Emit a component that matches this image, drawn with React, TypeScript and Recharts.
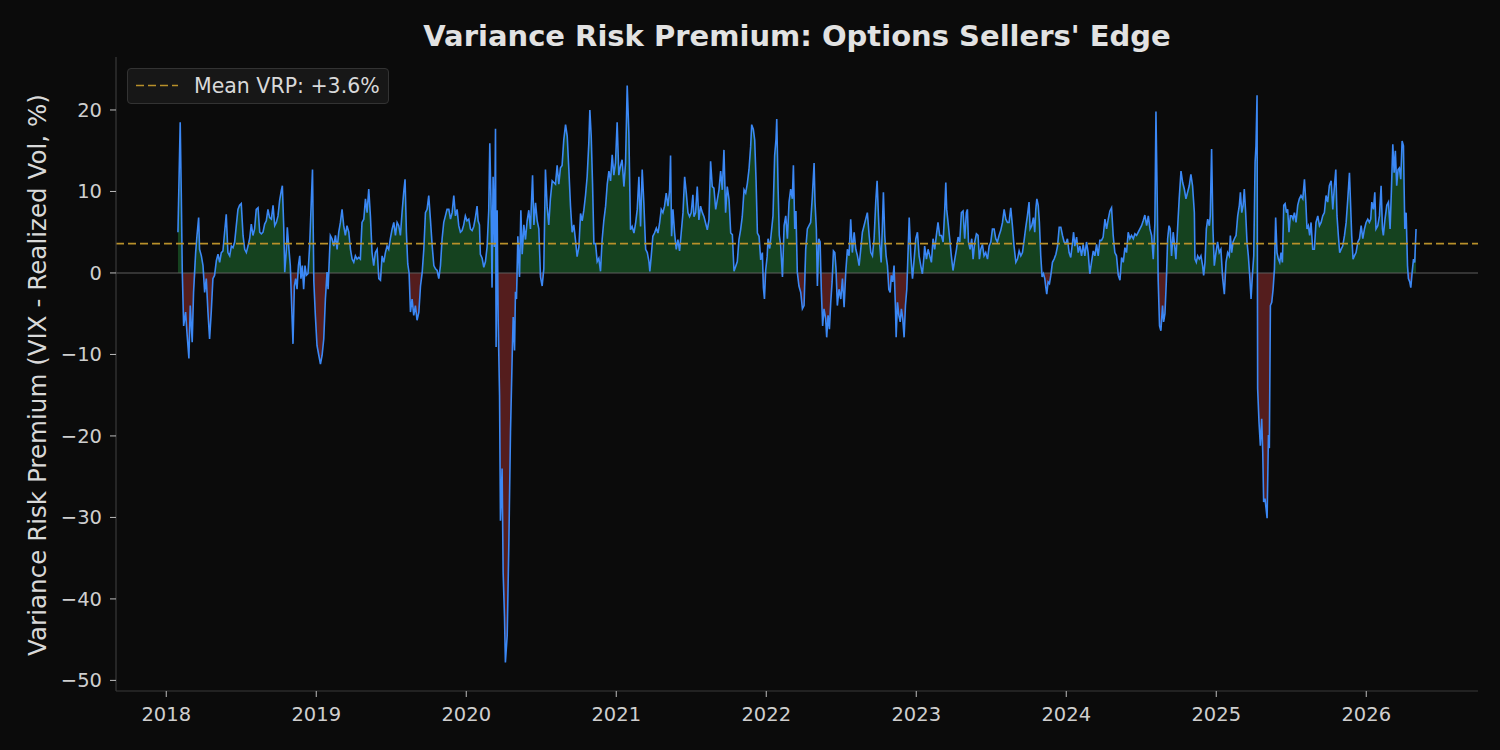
import React from 'react';
import { ComposedChart, Area, Line, XAxis, YAxis, ReferenceLine } from 'recharts';

// VIX minus realized vol: [decimal year, VRP %]
const vrp2018: [number, number][] = [
  [2018.078, 5.0], [2018.093, 18.5], [2018.100, 9.9], [2018.107, 0.0], [2018.116, -6.5], [2018.129, -4.8],
  [2018.138, -7.3], [2018.151, -10.5], [2018.160, -4.0], [2018.173, -8.5], [2018.182, -2.4], [2018.196, 2.5],
  [2018.205, 4.6], [2018.216, 6.8], [2018.222, 2.9], [2018.234, 2.1], [2018.245, 0.9], [2018.256, -2.4],
  [2018.267, -0.7], [2018.278, -4.8], [2018.289, -8.1], [2018.300, -4.8], [2018.311, -0.7], [2018.322, -0.3],
  [2018.334, 1.5], [2018.345, 2.3], [2018.356, 1.3], [2018.367, 2.5], [2018.378, 2.7], [2018.389, 5.0],
  [2018.400, 7.2], [2018.411, 2.5], [2018.423, 2.1], [2018.434, 3.3], [2018.445, 3.1], [2018.456, 3.8],
  [2018.467, 5.8], [2018.478, 7.8], [2018.489, 8.3], [2018.500, 8.5], [2018.512, 4.6], [2018.523, 2.9],
  [2018.534, 2.5], [2018.545, 3.3], [2018.556, 4.2], [2018.567, 6.0], [2018.578, 4.6], [2018.589, 5.4],
  [2018.600, 7.8], [2018.612, 8.0], [2018.623, 5.0], [2018.634, 4.8], [2018.645, 5.0], [2018.656, 6.0],
  [2018.667, 6.4], [2018.678, 7.8], [2018.689, 6.8], [2018.701, 6.6], [2018.712, 8.3], [2018.723, 5.8],
  [2018.734, 6.2], [2018.745, 7.0], [2018.756, 8.9], [2018.767, 10.1], [2018.774, 10.7], [2018.783, 5.8],
  [2018.790, 0.1], [2018.801, 2.9], [2018.807, 5.6], [2018.818, 2.9], [2018.827, 0.9], [2018.836, -4.0],
  [2018.845, -8.7], [2018.854, -1.6], [2018.863, -0.7], [2018.872, -2.0], [2018.881, 0.9], [2018.890, 2.1],
  [2018.898, -0.7], [2018.907, 0.9], [2018.916, -2.0], [2018.925, 0.9], [2018.934, -0.3], [2018.945, -0.1],
  [2018.956, 3.3], [2018.965, 7.8], [2018.975, 12.7], [2018.984, -1.1], [2018.994, -5.2],
];

const vrp2019: [number, number][] = [
  [2019.005, -8.9], [2019.017, -10.1], [2019.028, -11.2], [2019.039, -10.1], [2019.050, -8.1], [2019.061, -3.2],
  [2019.072, 0.1], [2019.079, -2.0], [2019.088, 2.1], [2019.094, 4.6], [2019.105, 4.2], [2019.117, 3.3],
  [2019.128, 4.6], [2019.139, 2.9], [2019.150, 5.0], [2019.161, 6.2], [2019.172, 7.8], [2019.183, 5.8],
  [2019.194, 4.6], [2019.205, 5.8], [2019.217, 5.0], [2019.228, 2.9], [2019.239, 1.7], [2019.250, 1.3],
  [2019.261, 2.1], [2019.272, 1.7], [2019.283, 1.9], [2019.294, 1.7], [2019.305, 6.2], [2019.317, 6.6],
  [2019.328, 9.1], [2019.339, 7.4], [2019.350, 10.3], [2019.361, 7.0], [2019.372, 2.5], [2019.383, 0.9],
  [2019.394, 2.5], [2019.406, 2.9], [2019.417, -0.7], [2019.428, -0.9], [2019.439, 2.1], [2019.450, 1.3],
  [2019.461, 2.5], [2019.472, 3.3], [2019.483, 2.9], [2019.494, 4.2], [2019.506, 5.4], [2019.517, 6.2],
  [2019.528, 4.6], [2019.539, 6.2], [2019.550, 5.8], [2019.561, 4.6], [2019.572, 7.4], [2019.583, 9.9],
  [2019.592, 11.5], [2019.601, 5.0], [2019.610, 1.1], [2019.619, 0.0], [2019.628, -4.8], [2019.639, -3.2],
  [2019.650, -5.2], [2019.661, -4.0], [2019.672, -5.8], [2019.684, -4.8], [2019.695, -1.6], [2019.706, 0.0],
  [2019.717, 2.9], [2019.728, 7.4], [2019.739, 7.8], [2019.750, 9.5], [2019.761, 6.6], [2019.773, 3.3],
  [2019.784, 0.9], [2019.795, 0.5], [2019.806, 0.3], [2019.817, -0.7], [2019.828, 0.9], [2019.839, 4.2],
  [2019.850, 6.2], [2019.861, 7.0], [2019.872, 7.8], [2019.884, 7.8], [2019.895, 6.6], [2019.906, 7.4],
  [2019.917, 9.5], [2019.928, 7.0], [2019.939, 7.8], [2019.950, 5.8], [2019.961, 5.0], [2019.972, 5.2],
  [2019.983, 5.9], [2019.994, 7.0],
];

const vrp2020: [number, number][] = [
  [2020.005, 6.4], [2020.017, 6.6], [2020.028, 5.4], [2020.039, 5.2], [2020.050, 5.7], [2020.061, 6.8],
  [2020.072, 8.2], [2020.079, 6.4], [2020.088, 5.9], [2020.094, 2.3], [2020.106, 1.8], [2020.117, 0.7],
  [2020.128, 1.4], [2020.139, 3.2], [2020.150, 7.7], [2020.157, 15.9], [2020.166, 7.7], [2020.172, -1.8],
  [2020.179, 11.8], [2020.188, 3.2], [2020.195, 17.7], [2020.199, -9.1], [2020.206, 7.7], [2020.213, -5.9],
  [2020.222, -15.0], [2020.228, -30.4], [2020.239, -24.0], [2020.246, -36.8], [2020.255, -42.2], [2020.261, -47.8],
  [2020.273, -44.5], [2020.284, -33.1], [2020.295, -19.5], [2020.306, -10.4], [2020.313, -5.4], [2020.322, -9.5],
  [2020.328, -2.3], [2020.335, -3.2], [2020.344, 4.5], [2020.355, -0.5], [2020.364, 7.7], [2020.373, 2.3],
  [2020.384, 5.9], [2020.395, 4.1], [2020.406, 6.4], [2020.417, 7.7], [2020.428, 5.4], [2020.442, 12.0],
  [2020.451, 5.9], [2020.462, 8.6], [2020.473, 6.4], [2020.484, 5.4], [2020.495, -0.5], [2020.506, -1.6],
  [2020.517, 0.5], [2020.528, 12.7], [2020.539, 8.2], [2020.550, 5.9], [2020.561, 9.1], [2020.573, 11.3],
  [2020.584, 11.1], [2020.595, 10.9], [2020.606, 13.2], [2020.617, 10.9], [2020.628, 12.9], [2020.639, 13.2],
  [2020.650, 16.3], [2020.662, 18.2], [2020.673, 16.8], [2020.684, 12.7], [2020.695, 8.2], [2020.706, 5.0],
  [2020.717, 5.9], [2020.728, 4.1], [2020.739, 2.0], [2020.751, 3.2], [2020.762, 7.3], [2020.773, 6.4],
  [2020.784, 7.7], [2020.795, 9.5], [2020.806, 11.8], [2020.817, 15.9], [2020.824, 20.0], [2020.833, 16.8],
  [2020.842, 10.9], [2020.851, 3.6], [2020.862, 3.6], [2020.873, 1.4], [2020.884, 1.8], [2020.895, 0.2],
  [2020.906, 4.1], [2020.917, 6.4], [2020.929, 8.2], [2020.940, 10.9], [2020.951, 12.5], [2020.962, 11.3],
  [2020.973, 14.5], [2020.984, 12.0], [2020.995, 13.5],
];

const vrp2021: [number, number][] = [
  [2021.006, 18.5], [2021.017, 12.0], [2021.028, 13.1], [2021.039, 13.9], [2021.051, 10.6], [2021.062, 13.5],
  [2021.073, 23.0], [2021.084, 17.2], [2021.095, 5.3], [2021.106, 5.7], [2021.118, 4.9], [2021.129, 6.1],
  [2021.140, 7.8], [2021.151, 11.8], [2021.162, 5.7], [2021.173, 12.7], [2021.184, 8.6], [2021.196, 2.9],
  [2021.207, 2.5], [2021.218, 1.4], [2021.224, 0.2], [2021.233, 2.0], [2021.244, 4.5], [2021.255, 4.9],
  [2021.267, 5.5], [2021.278, 4.9], [2021.289, 6.1], [2021.300, 7.8], [2021.311, 7.4], [2021.322, 8.2],
  [2021.333, 9.8], [2021.345, 8.2], [2021.356, 10.2], [2021.362, 14.4], [2021.369, 4.5], [2021.378, 7.8],
  [2021.389, 4.9], [2021.400, 2.9], [2021.411, 4.1], [2021.422, 2.7], [2021.433, 4.9], [2021.445, 7.4],
  [2021.456, 11.8], [2021.467, 9.8], [2021.478, 7.4], [2021.489, 6.9], [2021.500, 7.4], [2021.511, 9.6],
  [2021.518, 6.9], [2021.529, 7.4], [2021.540, 10.6], [2021.551, 6.5], [2021.562, 8.2], [2021.574, 7.4],
  [2021.585, 6.9], [2021.596, 6.1], [2021.607, 5.3], [2021.618, 6.5], [2021.629, 13.7], [2021.640, 10.6],
  [2021.651, 10.4], [2021.663, 7.8], [2021.674, 9.0], [2021.685, 10.2], [2021.696, 12.5], [2021.707, 10.2],
  [2021.718, 15.1], [2021.729, 7.4], [2021.740, 10.6], [2021.752, 9.0], [2021.763, 4.9], [2021.774, 4.7],
  [2021.785, 0.2], [2021.796, 0.8], [2021.807, 1.4], [2021.818, 4.1], [2021.829, 5.3], [2021.840, 6.9],
  [2021.852, 10.2], [2021.863, 9.8], [2021.874, 11.0], [2021.885, 12.7], [2021.896, 15.5], [2021.903, 18.2],
  [2021.914, 17.6], [2021.923, 16.3], [2021.932, 11.4], [2021.941, 4.9], [2021.952, 4.5], [2021.963, 1.6],
  [2021.974, 2.5], [2021.981, -1.8], [2021.988, -3.2], [2021.996, 0.3],
];

const vrp2022: [number, number][] = [
  [2022.006, 2.0], [2022.012, 4.2], [2022.023, 3.0], [2022.034, 5.0], [2022.045, 7.0], [2022.056, 14.4],
  [2022.065, 16.4], [2022.070, 18.9], [2022.079, 10.3], [2022.087, 4.6], [2022.096, 3.4], [2022.108, -0.5],
  [2022.119, 5.8], [2022.130, 7.0], [2022.141, 4.2], [2022.152, 8.7], [2022.163, 10.3], [2022.174, 9.1],
  [2022.181, 13.2], [2022.190, 5.4], [2022.198, 7.6], [2022.207, 0.1], [2022.218, -1.6], [2022.230, -2.4],
  [2022.241, -4.4], [2022.252, -4.0], [2022.263, 2.9], [2022.274, 5.4], [2022.285, 5.8], [2022.296, 6.2],
  [2022.307, 9.3], [2022.319, 13.5], [2022.325, 8.7], [2022.334, 5.4], [2022.341, -1.6], [2022.350, 4.2],
  [2022.359, 3.8], [2022.367, -2.0], [2022.376, -6.5], [2022.385, -4.4], [2022.396, -5.6], [2022.403, -7.9],
  [2022.412, -5.2], [2022.421, -6.9], [2022.430, -3.6], [2022.439, -1.1], [2022.448, 2.7], [2022.457, 2.5],
  [2022.465, 0.5], [2022.474, -4.0], [2022.485, -2.0], [2022.497, -3.2], [2022.508, -0.7], [2022.519, -4.2],
  [2022.530, 0.1], [2022.541, 2.9], [2022.552, 2.1], [2022.563, 6.6], [2022.574, 2.5], [2022.586, 5.0],
  [2022.597, 2.9], [2022.608, 2.1], [2022.619, 0.9], [2022.630, 2.9], [2022.641, 5.0], [2022.652, 5.8],
  [2022.663, 6.6], [2022.674, 7.4], [2022.686, 4.6], [2022.697, 2.5], [2022.708, 2.1], [2022.719, 4.2],
  [2022.730, 8.7], [2022.739, 11.3], [2022.748, 7.0], [2022.757, 3.4], [2022.766, 1.3], [2022.775, 6.2],
  [2022.781, 9.9], [2022.790, 4.6], [2022.799, 2.1], [2022.808, 0.9], [2022.817, -2.0], [2022.826, -2.4],
  [2022.834, -0.3], [2022.843, -1.1], [2022.852, 0.9], [2022.861, -4.0], [2022.866, -7.9], [2022.875, -3.6],
  [2022.884, -5.2], [2022.893, -6.0], [2022.901, -4.4], [2022.910, -5.6], [2022.919, -7.9], [2022.928, -4.0],
  [2022.937, -2.0], [2022.946, 2.9], [2022.953, 6.8], [2022.964, 2.1], [2022.975, -0.7], [2022.986, 1.7],
  [2022.997, 4.2],
];

const vrp2023: [number, number][] = [
  [2023.008, 5.0], [2023.019, 2.1], [2023.030, 0.9], [2023.041, -0.1], [2023.052, 2.1], [2023.056, 3.3],
  [2023.068, 1.7], [2023.079, 2.9], [2023.090, 2.1], [2023.101, 1.3], [2023.112, 4.2], [2023.123, 2.9],
  [2023.134, 4.6], [2023.145, 6.2], [2023.156, 4.6], [2023.168, 4.6], [2023.179, 3.8], [2023.190, 7.8],
  [2023.197, 11.1], [2023.203, 7.8], [2023.212, 6.2], [2023.223, 4.2], [2023.234, 2.1], [2023.245, 0.3],
  [2023.257, 1.7], [2023.268, 2.9], [2023.279, 4.4], [2023.290, 3.8], [2023.301, 7.4], [2023.312, 7.6],
  [2023.323, 4.2], [2023.334, 7.4], [2023.341, 7.8], [2023.348, 3.8], [2023.359, 2.9], [2023.370, 4.2],
  [2023.379, 1.7], [2023.390, 3.8], [2023.401, 4.8], [2023.412, 4.6], [2023.421, 1.7], [2023.430, 2.9],
  [2023.441, 3.5], [2023.452, 2.1], [2023.463, 2.5], [2023.475, 1.7], [2023.486, 3.3], [2023.497, 3.8],
  [2023.508, 5.4], [2023.519, 5.4], [2023.530, 4.2], [2023.541, 3.8], [2023.552, 4.6], [2023.563, 5.2],
  [2023.575, 6.2], [2023.586, 7.8], [2023.597, 6.6], [2023.608, 6.2], [2023.619, 6.2], [2023.630, 8.0],
  [2023.641, 5.8], [2023.652, 3.3], [2023.664, 1.3], [2023.675, 1.7], [2023.686, 2.7], [2023.697, 2.1],
  [2023.708, 2.5], [2023.719, 4.0], [2023.730, 5.6], [2023.741, 7.0], [2023.752, 8.7], [2023.759, 5.4],
  [2023.770, 5.8], [2023.781, 6.8], [2023.790, 5.0], [2023.797, 7.8], [2023.804, 9.1], [2023.813, 8.3],
  [2023.821, 6.2], [2023.830, 2.1], [2023.839, -0.5], [2023.848, -0.1], [2023.857, -0.7], [2023.864, -1.8],
  [2023.870, -2.6], [2023.879, -1.1], [2023.888, -1.3], [2023.897, -0.3], [2023.908, 1.3], [2023.919, 1.7],
  [2023.931, 2.3], [2023.942, 3.3], [2023.953, 5.6], [2023.964, 5.6], [2023.975, 4.6], [2023.986, 3.8],
  [2023.997, 3.6],
];

const vrp2024: [number, number][] = [
  [2024.008, 4.2], [2024.019, 2.5], [2024.030, 1.9], [2024.042, 3.8], [2024.049, 5.0], [2024.057, 3.3],
  [2024.069, 4.4], [2024.080, 2.5], [2024.091, 3.3], [2024.102, 2.1], [2024.113, 3.5], [2024.124, 2.1],
  [2024.135, 3.8], [2024.146, 2.5], [2024.157, -0.1], [2024.169, 1.4], [2024.180, 2.7], [2024.191, 2.1],
  [2024.202, 3.5], [2024.213, 2.1], [2024.224, 4.0], [2024.235, 4.0], [2024.246, 4.4], [2024.258, 6.6],
  [2024.269, 5.4], [2024.280, 6.6], [2024.291, 7.6], [2024.302, 8.0], [2024.313, 4.6], [2024.324, 2.5],
  [2024.335, 2.1], [2024.347, -0.3], [2024.358, -0.9], [2024.369, 1.9], [2024.380, 1.3], [2024.391, 3.1],
  [2024.402, 2.5], [2024.413, 5.0], [2024.424, 4.2], [2024.435, 4.6], [2024.447, 4.2], [2024.458, 4.8],
  [2024.469, 4.6], [2024.480, 5.0], [2024.491, 5.4], [2024.502, 5.8], [2024.513, 6.4], [2024.524, 7.1],
  [2024.536, 5.8], [2024.547, 7.0], [2024.558, 5.4], [2024.569, 4.6], [2024.580, 1.7], [2024.591, 6.1],
  [2024.598, 19.8], [2024.607, 8.3], [2024.613, -1.0], [2024.622, -6.5], [2024.631, -7.1], [2024.642, -4.0],
  [2024.649, -6.0], [2024.658, -5.0], [2024.667, -1.1], [2024.676, 4.2], [2024.685, 5.8], [2024.693, 5.4],
  [2024.702, 2.1], [2024.713, 5.0], [2024.720, 3.8], [2024.731, 1.7], [2024.742, 5.4], [2024.753, 9.1],
  [2024.765, 12.5], [2024.776, 11.1], [2024.787, 10.3], [2024.798, 9.1], [2024.809, 9.9], [2024.820, 10.7],
  [2024.831, 12.1], [2024.842, 10.7], [2024.854, 7.4], [2024.858, 1.7], [2024.867, 1.3], [2024.876, 2.1],
  [2024.887, 1.7], [2024.898, 2.1], [2024.909, 0.9], [2024.916, -0.3], [2024.925, 1.3], [2024.934, 5.4],
  [2024.943, 6.6], [2024.954, 5.8], [2024.960, 7.0], [2024.969, 15.2], [2024.978, 5.4], [2024.987, 0.9],
  [2024.998, 2.5],
];

const vrp2025: [number, number][] = [
  [2025.009, 3.8], [2025.020, 2.5], [2025.031, 2.9], [2025.043, -0.7], [2025.054, -2.6], [2025.065, 1.3],
  [2025.076, 2.5], [2025.087, 2.1], [2025.094, 4.6], [2025.103, 2.5], [2025.112, 3.8], [2025.121, 4.2],
  [2025.132, 4.6], [2025.143, 7.0], [2025.154, 8.3], [2025.161, 9.9], [2025.170, 7.4], [2025.179, 8.3],
  [2025.187, 10.3], [2025.196, 7.4], [2025.205, 3.8], [2025.214, 2.1], [2025.223, -0.3], [2025.232, -3.2],
  [2025.241, -0.3], [2025.250, 2.1], [2025.259, 13.6], [2025.265, 15.6], [2025.272, 21.8], [2025.276, -14.2],
  [2025.285, -18.3], [2025.294, -21.2], [2025.303, -17.9], [2025.310, -22.0], [2025.316, -28.1], [2025.325, -27.7],
  [2025.332, -28.9], [2025.339, -30.1], [2025.348, -19.9], [2025.354, -21.5], [2025.361, -4.0], [2025.370, -3.6],
  [2025.379, -2.0], [2025.388, 0.5], [2025.396, 6.8], [2025.405, 2.5], [2025.414, 1.7], [2025.423, 1.3],
  [2025.432, 2.5], [2025.441, 1.3], [2025.450, 8.3], [2025.459, 8.5], [2025.468, 7.4], [2025.476, 7.8],
  [2025.485, 5.0], [2025.494, 7.0], [2025.503, 7.0], [2025.512, 6.6], [2025.521, 7.4], [2025.532, 6.2],
  [2025.543, 8.3], [2025.554, 9.1], [2025.565, 9.5], [2025.577, 9.1], [2025.588, 11.5], [2025.597, 8.7],
  [2025.605, 5.4], [2025.614, 5.8], [2025.623, 4.6], [2025.632, 6.2], [2025.643, 2.9], [2025.654, 2.9],
  [2025.665, 6.2], [2025.677, 7.0], [2025.688, 5.8], [2025.699, 6.2], [2025.710, 7.0], [2025.721, 7.4],
  [2025.732, 9.5], [2025.743, 8.7], [2025.754, 10.7], [2025.766, 11.3], [2025.777, 7.8], [2025.788, 10.7],
  [2025.797, 12.7], [2025.805, 7.0], [2025.814, 4.6], [2025.823, 2.5], [2025.832, 2.9], [2025.843, 3.3],
  [2025.855, 4.6], [2025.866, 6.2], [2025.877, 9.1], [2025.888, 12.3], [2025.895, 8.7], [2025.903, 4.6],
  [2025.912, 1.7], [2025.921, 2.1], [2025.932, 2.5], [2025.944, 3.8], [2025.955, 4.2], [2025.966, 5.8],
  [2025.977, 4.2], [2025.988, 5.4], [2025.999, 6.2],
];

const vrp2026: [number, number][] = [
  [2026.010, 6.6], [2026.021, 6.2], [2026.030, 6.6], [2026.037, 8.7], [2026.048, 7.8], [2026.057, 9.9],
  [2026.065, 5.4], [2026.077, 5.8], [2026.088, 7.0], [2026.099, 10.7], [2026.108, 5.4], [2026.114, 4.6],
  [2026.125, 6.6], [2026.137, 8.3], [2026.148, 8.7], [2026.159, 5.4], [2026.168, 10.3], [2026.177, 15.8],
  [2026.186, 12.3], [2026.194, 15.0], [2026.203, 10.7], [2026.212, 12.7], [2026.221, 12.9], [2026.230, 11.5],
  [2026.239, 16.2], [2026.248, 15.6], [2026.257, 5.4], [2026.266, 7.4], [2026.275, 0.9], [2026.281, -0.7],
  [2026.290, -1.1], [2026.297, -1.8], [2026.306, 0.1], [2026.315, 1.7], [2026.323, 1.3], [2026.332, 5.4],
];

const yearTicks = [2018, 2019, 2020, 2021, 2022, 2023, 2024, 2025, 2026];
const vrpTicks = [-50, -40, -30, -20, -10, 0, 10, 20];
const meanVrp = 3.6;

const BG = '#0b0b0b';
const TEXT = '#d9d9d9';
const GOLD = '#b8902a';
const FONT = '"DejaVu Sans", sans-serif';

const series = [...vrp2018, ...vrp2019, ...vrp2020, ...vrp2021, ...vrp2022, ...vrp2023, ...vrp2024, ...vrp2025, ...vrp2026].map(
  ([t, v]) => ({ t, v, pos: v > 0 ? v : 0, neg: v < 0 ? v : 0 })
);

const fmtY = (v: number) => (v < 0 ? `\u2212${Math.abs(v)}` : `${v}`);

export default function App() {
  return (
    <div style={{ position: 'absolute', left: 0, top: 0, width: 1500, height: 750, background: BG, fontFamily: FONT, overflow: 'hidden' }}>
      <div
        style={{
          position: 'absolute', left: 116, top: 22, width: 1362, textAlign: 'center',
          fontSize: 29, lineHeight: '29px', fontWeight: 'bold', color: '#e2e2e2', whiteSpace: 'nowrap',
        }}
      >
        Variance Risk Premium: Options Sellers' Edge
      </div>
      <div
        style={{
          position: 'absolute', left: 37, top: 375, transform: 'translate(-50%, -50%) rotate(-90deg)',
          fontSize: 24.6, lineHeight: '25px', color: TEXT, whiteSpace: 'nowrap',
        }}
      >
        Variance Risk Premium (VIX - Realized Vol, %)
      </div>

      <ComposedChart width={1500} height={750} data={series} margin={{ top: 57, right: 22, bottom: 19, left: 46 }}>
        <XAxis
          dataKey="t"
          type="number"
          domain={[2017.665, 2026.745]}
          ticks={yearTicks}
          allowDataOverflow
          tickFormatter={(v: number) => `${v}`}
          axisLine={{ stroke: '#3a3a3a', strokeWidth: 1.2 }}
          tickLine={{ stroke: '#bdbdbd' }}
          tick={{ fill: '#cfcfcf', fontSize: 19.5, fontFamily: FONT }}
          tickSize={6}
          tickMargin={10}
          height={40}
        />
        <YAxis
          type="number"
          domain={[-51.3, 26.5]}
          ticks={vrpTicks}
          allowDataOverflow
          tickFormatter={fmtY}
          axisLine={{ stroke: '#3a3a3a', strokeWidth: 1.2 }}
          tickLine={{ stroke: '#bdbdbd' }}
          tick={{ fill: '#cfcfcf', fontSize: 19.5, fontFamily: FONT }}
          tickSize={6}
          tickMargin={8}
          width={70}
        />
        <Area type="linear" dataKey="pos" baseValue={0} stroke="none" fill="#15421f" fillOpacity={1} isAnimationActive={false} />
        <Area type="linear" dataKey="neg" baseValue={0} stroke="none" fill="#541d1d" fillOpacity={1} isAnimationActive={false} />
        <ReferenceLine y={0} stroke="#5e5e5e" strokeWidth={1.1} />
        <Line type="linear" dataKey="v" stroke="#3b88f5" strokeWidth={1.6} dot={false} isAnimationActive={false} />
        <ReferenceLine y={meanVrp} stroke={GOLD} strokeWidth={1.7} strokeDasharray="8 4" />
      </ComposedChart>

      <div
        style={{
          position: 'absolute', left: 127, top: 68, width: 262, height: 36, boxSizing: 'border-box',
          background: '#171717', border: '1px solid #333333', borderRadius: 4,
        }}
      >
        <svg width={50} height={34} style={{ position: 'absolute', left: 0, top: 0 }}>
          <line x1={8} y1={16.5} x2={50} y2={16.5} stroke={GOLD} strokeWidth={1.7} strokeDasharray="8 4" />
        </svg>
        <div
          style={{
            position: 'absolute', left: 66, top: 5, fontSize: 20.5, lineHeight: '24px', color: TEXT, whiteSpace: 'nowrap',
          }}
        >
          Mean VRP: +3.6%
        </div>
      </div>
    </div>
  );
}
